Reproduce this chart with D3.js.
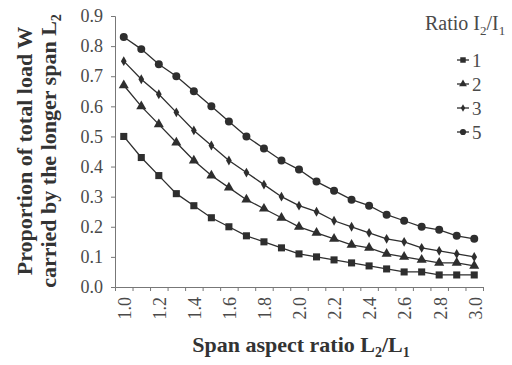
<!DOCTYPE html>
<html lang="en">
  <head>
    <meta charset="utf-8">
    <title>Load proportion vs span aspect ratio</title>
    <script src="https://d3js.org/d3.v7.min.js"></script>
    <style>
      body { margin: 0; background: #fff; }
      #chart text { font-family: "Liberation Serif", "Times New Roman", serif; }
    </style>
  </head>
  <body>
    <div id="chart"></div>

    <script type="text/javascript">
      "use strict"

      // valores
      var aspectRatio = [1.0, 1.1, 1.2, 1.3, 1.4, 1.5, 1.6, 1.7, 1.8, 1.9, 2.0,
                         2.1, 2.2, 2.3, 2.4, 2.5, 2.6, 2.7, 2.8, 2.9, 3.0];
      var ratioNames = ["1", "2", "3", "5"];
      var ratio1 = [0.50, 0.43, 0.37, 0.31, 0.27, 0.23, 0.20, 0.17, 0.15, 0.13, 0.11,
                    0.10, 0.09, 0.08, 0.07, 0.06, 0.05, 0.05, 0.04, 0.04, 0.04];
      var ratio2 = [0.67, 0.60, 0.54, 0.48, 0.42, 0.37, 0.33, 0.29, 0.26, 0.23, 0.20,
                    0.18, 0.16, 0.14, 0.13, 0.11, 0.10, 0.09, 0.08, 0.08, 0.07];
      var ratio3 = [0.75, 0.69, 0.64, 0.58, 0.52, 0.47, 0.42, 0.38, 0.34, 0.30, 0.27,
                    0.25, 0.22, 0.20, 0.18, 0.16, 0.15, 0.13, 0.12, 0.11, 0.10];
      var ratio5 = [0.83, 0.79, 0.74, 0.70, 0.65, 0.60, 0.55, 0.50, 0.46, 0.42, 0.39,
                    0.35, 0.32, 0.29, 0.27, 0.24, 0.22, 0.20, 0.19, 0.17, 0.16];
      var yTicks = [0.0, 0.1, 0.2, 0.3, 0.4, 0.5, 0.6, 0.7, 0.8, 0.9];
      var xTickLabels = ["1.0", "1.2", "1.4", "1.6", "1.8", "2.0", "2.2", "2.4", "2.6", "2.8", "3.0"];

      var series = [ratio1, ratio2, ratio3, ratio5];
      var symbols = [d3.symbolSquare, d3.symbolTriangle, d3.symbolDiamond, d3.symbolCircle];
      var symbolSizes = [50, 44, 28, 50];

      var larguraSVG = 512, alturaSVG = 365;
      var corLinha = "#2e2e2e", corTexto = "#4a4a4a";

      var svg = d3.select("#chart")
        .append("svg")
          .attr("width", larguraSVG)
          .attr("height", alturaSVG);

      var x = d3.scaleLinear().domain([0.95, 3.05]).range([115, 483]);
      var y = d3.scaleLinear().domain([0, 0.9]).range([287, 16]);

      /*
       * Eixos
       */
      var eixoY = svg.append("g")
        .attr("transform", "translate(" + x(0.95) + ",0)")
        .call(d3.axisLeft(y).tickValues(yTicks).tickFormat(d3.format(".1f")).tickSize(4).tickPadding(8));

      // ticks entre as categorias, rotulos a cada 0.2
      var xTickPos = d3.range(0, 21).map(i => 1.05 + i * 0.1);
      var eixoX = svg.append("g")
        .attr("transform", "translate(0," + y(0) + ")")
        .call(d3.axisBottom(x).tickValues(xTickPos).tickFormat("").tickSize(4));

      [eixoX, eixoY].forEach(function(g) {
        g.select(".domain").attr("stroke", "#777").attr("stroke-width", 1);
        g.selectAll(".tick line").attr("stroke", "#777");
      });
      eixoY.selectAll(".tick text")
        .attr("fill", corTexto)
        .style("font-size", "18px");

      svg.append("g")
        .selectAll("text")
        .data(xTickLabels)
        .enter()
          .append("text")
          .attr("transform", d => "translate(" + (x(+d) + 1) + "," + (y(0) + 10) + ") rotate(-90)")
          .attr("text-anchor", "end")
          .attr("dy", "0.35em")
          .attr("fill", corTexto)
          .style("font-size", "18px")
          .text(d => d);

      /*
       * Linhas e marcadores
       */
      var linha = d3.line()
        .x((d, i) => x(aspectRatio[i]))
        .y(d => y(d));

      var grupos = svg.append("g")
        .selectAll("g.serie")
        .data(series)
        .enter()
          .append("g")
          .attr("class", "serie");

      grupos.append("path")
        .attr("d", d => linha(d))
        .attr("fill", "none")
        .attr("stroke", corLinha)
        .attr("stroke-width", 1.3);

      grupos.each(function(serie, s) {
        d3.select(this).selectAll("path.marca")
          .data(serie)
          .enter()
            .append("path")
            .attr("class", "marca")
            .attr("transform", (d, i) => "translate(" + x(aspectRatio[i]) + "," + y(d) + ")")
            .attr("d", d3.symbol().type(symbols[s]).size(symbolSizes[s]))
            .attr("fill", corLinha);
      });

      /*
       * Legenda
       */
      var titulo = svg.append("text")
        .attr("x", 425)
        .attr("y", 30)
        .attr("fill", corTexto)
        .style("font-size", "20px");
      titulo.append("tspan").text("Ratio I");
      titulo.append("tspan").attr("dy", 5).style("font-size", "13px").text("2");
      titulo.append("tspan").attr("dy", -5).text("/I");
      titulo.append("tspan").attr("dy", 5).style("font-size", "13px").text("1");

      var itens = svg.append("g")
        .selectAll("g")
        .data(ratioNames)
        .enter()
          .append("g")
          .attr("transform", (d, i) => "translate(457," + (60 + i * 24) + ")");

      itens.append("line")
        .attr("x1", 0).attr("x2", 12)
        .attr("stroke", corLinha)
        .attr("stroke-width", 1.3);
      itens.append("path")
        .attr("transform", "translate(6,0)")
        .attr("d", (d, i) => d3.symbol().type(symbols[i]).size(symbolSizes[i] * 0.6)())
        .attr("fill", corLinha);
      itens.append("text")
        .attr("x", 15)
        .attr("dy", "0.35em")
        .attr("fill", corTexto)
        .style("font-size", "19px")
        .text(d => d);

      /*
       * Titulos dos eixos
       */
      var tituloX = svg.append("text")
        .attr("x", 301)
        .attr("y", 352)
        .attr("text-anchor", "middle")
        .attr("fill", "#333")
        .style("font-size", "22px")
        .style("font-weight", "bold");
      tituloX.append("tspan").text("Span aspect ratio L");
      tituloX.append("tspan").attr("dy", 5).style("font-size", "14px").text("2");
      tituloX.append("tspan").attr("dy", -5).text("/L");
      tituloX.append("tspan").attr("dy", 5).style("font-size", "14px").text("1");

      var tituloY = svg.append("g")
        .attr("transform", "translate(0,151) rotate(-90)");
      tituloY.append("text")
        .attr("x", 0)
        .attr("y", 32)
        .attr("text-anchor", "middle")
        .attr("fill", "#333")
        .style("font-size", "22px")
        .style("font-weight", "bold")
        .text("Proportion of total load W");
      var linha2 = tituloY.append("text")
        .attr("x", 0)
        .attr("y", 56)
        .attr("text-anchor", "middle")
        .attr("fill", "#333")
        .style("font-size", "22px")
        .style("font-weight", "bold");
      linha2.append("tspan").text("carried by the longer span L");
      linha2.append("tspan").attr("dy", 5).style("font-size", "14px").text("2");
    </script>
  </body>
</html>
